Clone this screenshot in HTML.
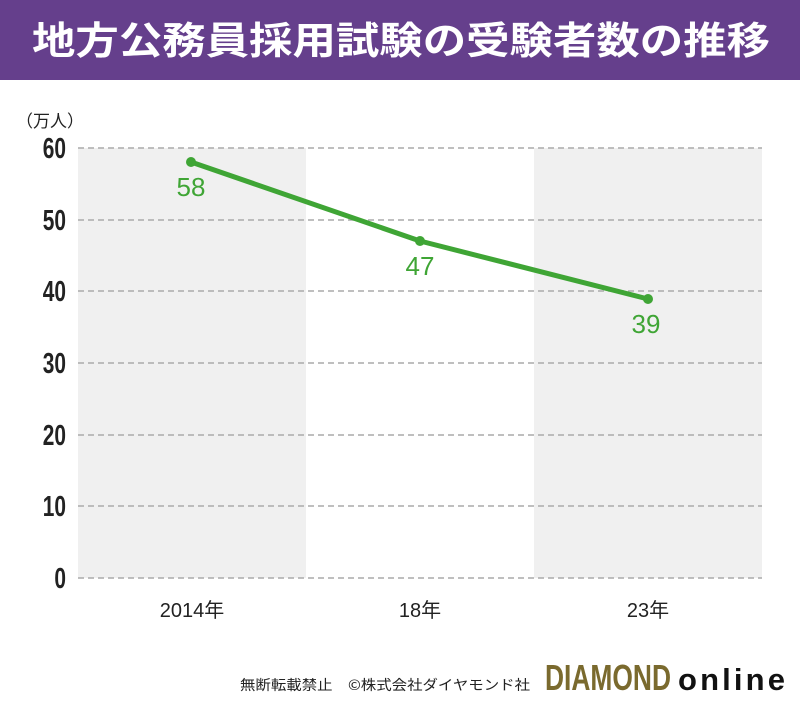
<!DOCTYPE html>
<html><head><meta charset="utf-8"><style>
body{margin:0;width:800px;height:705px;background:#fff;overflow:hidden;font-family:"Liberation Sans","Noto Sans CJK JP",sans-serif}
</style></head><body>
<svg width="800" height="705" xmlns="http://www.w3.org/2000/svg" style="display:block">
<rect x="0" y="0" width="800" height="80" fill="#653f8c"/>
<text x="32" y="54" font-size="38" font-weight="bold" fill="#fff" font-family="Noto Sans CJK JP, sans-serif" textLength="738" lengthAdjust="spacingAndGlyphs">地方公務員採用試験の受験者数の推移</text>
<text x="16" y="127" font-size="17" fill="#222" font-family="Noto Sans CJK JP, sans-serif">（万人）</text>
<rect x="78" y="148" width="228" height="430" fill="#f0f0f0"/>
<rect x="534" y="148" width="228" height="430" fill="#f0f0f0"/>
<g stroke="#aaa" stroke-width="1.5" stroke-dasharray="6,4">
<line x1="78" x2="762" y1="148" y2="148"/><line x1="78" x2="762" y1="220" y2="220"/>
<line x1="78" x2="762" y1="291" y2="291"/><line x1="78" x2="762" y1="363" y2="363"/>
<line x1="78" x2="762" y1="435" y2="435"/><line x1="78" x2="762" y1="506" y2="506"/>
<line x1="78" x2="762" y1="578" y2="578"/></g>
<g font-size="29" font-weight="bold" fill="#222" text-anchor="end" transform="translate(66,0) scale(0.72,1)">
<text x="0" y="158">60</text><text x="0" y="230">50</text><text x="0" y="301">40</text>
<text x="0" y="373">30</text><text x="0" y="445">20</text><text x="0" y="516">10</text><text x="0" y="588">0</text></g>
<polyline points="191,162 420,241 648,299" fill="none" stroke="#3fa535" stroke-width="5" stroke-linejoin="round"/>
<g fill="#3fa535"><circle cx="191" cy="162" r="5"/><circle cx="420" cy="241" r="5"/><circle cx="648" cy="299" r="5"/></g>
<g font-size="26" fill="#3fa535" text-anchor="middle">
<text x="191" y="196">58</text><text x="420" y="275">47</text><text x="646" y="333">39</text></g>
<g font-size="20" fill="#222" text-anchor="middle" font-family="Liberation Sans, Noto Sans CJK JP, sans-serif">
<text x="192" y="617">2014年</text><text x="420" y="617">18年</text><text x="648" y="617">23年</text></g>
<text x="240" y="690" font-size="14" fill="#222" font-family="Noto Sans CJK JP, sans-serif" textLength="290" lengthAdjust="spacingAndGlyphs">無断転載禁止　©株式会社ダイヤモンド社</text>
<text x="545" y="690" font-size="36" font-weight="bold" fill="#7a6a2e" font-family="Liberation Sans Narrow, Liberation Sans, sans-serif" textLength="126" lengthAdjust="spacingAndGlyphs">DIAMOND</text>
<text x="678" y="690" font-size="31" font-weight="bold" fill="#111" textLength="107" lengthAdjust="spacing">online</text>
</svg>
</body></html>
